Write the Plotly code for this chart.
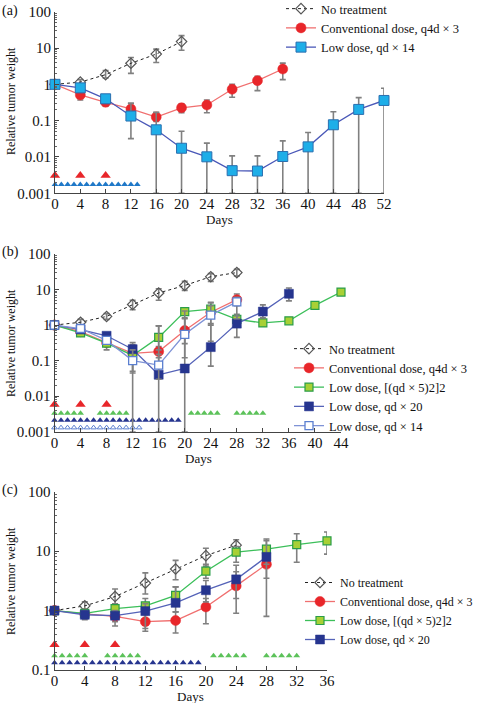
import plotly.graph_objects as go

# ---------------- data: panel (a) ----------------
a_nt_days = [0, 4, 8, 12, 16, 20]
a_nt_val = [1, 1.15, 1.85, 3.8, 6.8, 15]
a_nt_hi = [1, 1.35, 2.4, 5.5, 9.3, 22]
a_nt_lo = [1, 1.0, 1.5, 2.0, 4.0, 8.7]

a_cv_days = [0, 4, 8, 12, 16, 20, 24, 28, 32, 36]
a_cv_val = [1, 0.51, 0.32, 0.21, 0.126, 0.226, 0.27, 0.73, 1.26, 2.64]
a_cv_hi = [1, 0.67, 0.42, 0.30, 0.17, 0.29, 0.37, 1.0, 1.66, 3.85]
a_cv_lo = [1, 0.37, 0.25, 0.14, 0.095, 0.165, 0.165, 0.44, 0.67, 1.35]

a_ld_days = [0, 4, 8, 12, 16, 20, 24, 28, 32, 36, 40, 44, 48, 52]
a_ld_val = [1, 0.80, 0.40, 0.134, 0.056, 0.0174, 0.0101, 0.0042, 0.0041, 0.0103, 0.019, 0.077, 0.204, 0.36]
a_ld_hi = [1, 0.9, 0.45, 0.30, 0.168, 0.051, 0.024, 0.0107, 0.0107, 0.0277, 0.047, 0.176, 0.43, 0.78]
a_ld_lo = [1, 0.7, 0.36, 0.032, 0.001, 0.001, 0.001, 0.001, 0.001, 0.001, 0.001, 0.001, 0.001, 0.001]

a_tri_cv_days = [0, 4, 8]
a_tri_ld_days = list(range(0, 14))

# ---------------- data: panel (b) ----------------
b_nt_days = [0, 4, 8, 12, 16, 20, 24, 28]
b_nt_val = [1, 1.2, 1.75, 3.8, 8.0, 13, 23, 30]
b_nt_hi = [1, 1.45, 2.1, 5.0, 10.5, 17, 28, 37]
b_nt_lo = [1, 1.0, 1.45, 2.7, 5.0, 9.5, 17, 24]

b_cv_days = [0, 4, 8, 12, 16, 20, 24, 28]
b_cv_val = [1, 0.65, 0.32, 0.16, 0.18, 0.7, 2.3, 5.2]
b_cv_hi = [1, 0.78, 0.40, 0.28, 0.25, 1.6, 4.4, 7.5]
b_cv_lo = [1, 0.52, 0.20, 0.05, 0.12, 0.3, 1.0, 3.5]

b_gr_days = [0, 4, 8, 12, 16, 20, 24, 28, 32, 36, 40, 44]
b_gr_val = [1, 0.6, 0.31, 0.14, 0.45, 2.4, 2.8, 1.45, 1.15, 1.32, 3.6, 8.5]
b_gr_hi = [1, 0.72, 0.36, 0.2, 0.95, 2.9, 4.2, 2.0, 1.5, 1.5, 4.4, 10]
b_gr_lo = [1, 0.5, 0.26, 0.1, 0.2, 2.0, 2.0, 1.0, 0.95, 1.15, 3.0, 7]

b_nv_days = [0, 4, 8, 12, 16, 20, 24, 28, 32, 36]
b_nv_val = [1, 0.75, 0.5, 0.21, 0.04, 0.06, 0.24, 1.1, 2.4, 7.6]
b_nv_hi = [1, 0.85, 0.55, 0.32, 0.95, 2.5, 1.1, 1.8, 3.7, 11]
b_nv_lo = [1, 0.65, 0.4, 0.001, 0.001, 0.001, 0.07, 0.45, 1.6, 4.8]

b_lb_days = [0, 4, 8, 12, 16, 20, 24, 28]
b_lb_val = [1, 0.8, 0.37, 0.1, 0.075, 0.55, 1.9, 4.5]
b_lb_hi = [1, 0.9, 0.45, 0.2, 0.15, 1.5, 3.5, 6]
b_lb_lo = [1, 0.7, 0.3, 0.045, 0.03, 0.12, 0.35, 1.5]

b_tri_cv_days = [0, 4, 8]
b_tri_gr_days = [0, 1, 2, 3, 4, 7, 8, 9, 10, 11, 21, 22, 23, 24, 25, 28, 29, 30, 31, 32]
b_tri_nv_days = list(range(0, 20))
b_tri_lb_days = list(range(0, 14))

# ---------------- data: panel (c) ----------------
c_nt_days = [0, 4, 8, 12, 16, 20, 24]
c_nt_val = [1, 1.2, 1.72, 2.9, 5.0, 8.4, 12.6]
c_nt_hi = [1.1, 1.4, 2.3, 4.3, 7.0, 11.2, 15.5]
c_nt_lo = [0.9, 1.05, 1.3, 1.9, 3.3, 5.6, 9.5]

c_cv_days = [0, 4, 8, 12, 16, 20, 24, 28]
c_cv_val = [1, 0.88, 0.8, 0.65, 0.68, 1.15, 2.6, 6.0]
c_cv_hi = [1.1, 1.0, 1.0, 0.85, 0.95, 1.6, 4.5, 10]
c_cv_lo = [0.9, 0.75, 0.65, 0.45, 0.42, 0.6, 0.9, 0.8]

c_gr_days = [0, 4, 8, 12, 16, 20, 24, 28, 32, 36]
c_gr_val = [1, 0.9, 1.08, 1.2, 1.8, 4.6, 9.6, 10.8, 12.9, 14.9]
c_gr_hi = [1.1, 1.05, 1.3, 1.6, 2.5, 6, 12, 15, 19.6, 21]
c_gr_lo = [0.9, 0.78, 0.9, 0.9, 1.3, 3.5, 6.5, 6, 6.5, 8.9]

c_nv_days = [0, 4, 8, 12, 16, 20, 24, 28]
c_nv_val = [1, 0.85, 0.82, 0.98, 1.35, 2.2, 3.35, 8.0]
c_nv_hi = [1.1, 1.0, 1.0, 1.3, 2.5, 3.2, 5.8, 16]
c_nv_lo = [0.85, 0.7, 0.55, 0.5, 0.95, 1.4, 1.6, 3.5]

c_tri_cv_days = [0, 4, 8]
c_tri_gr_days = [0, 1, 2, 3, 4, 7, 8, 9, 10, 11, 21, 22, 23, 24, 25, 28, 29, 30, 31, 32]
c_tri_nv_days = list(range(0, 20))

# triangle row levels (relative tumor weight axis units)
a_tri_levels = [0.0031, 0.00175]
b_tri_levels = [0.0058, 0.0033, 0.0021, 0.0013]
c_tri_levels = [0.265, 0.173, 0.133]

# legend names
NAME_NT = "No treatment"
NAME_CV = "Conventional dose, q4d \u00d7 3"
NAME_LD14 = "Low dose, qd \u00d7 14"
NAME_GR = "Low dose, [(qd \u00d7 5)2]2"
NAME_LD20 = "Low dose, qd \u00d7 20"

# ---------------- styles ----------------
FONT = "Liberation Serif"
ERR_COL = "#808080"
RED = "#e8262a"
RED_LINE = "#f07070"
CYAN = "#1eaee8"
BLUE_LINE = "#4a58b8"
NAVY = "#26358f"
NAVY_LINE = "#5563b8"
GREEN_FILL = "#a8d035"
GREEN_EDGE = "#2a9d48"
GREEN_LINE = "#3cbf5a"
LB_EDGE = "#5b7fd0"
LB_LINE = "#7f93d6"
DIA_EDGE = "#555555"

fig = go.Figure()


def series(days, val, hi, lo, name, xa, ya, legend, line, marker, showlegend=True):
    up = [h - v for h, v in zip(hi, val)]
    dn = [v - l for v, l in zip(val, lo)]
    fig.add_trace(go.Scatter(
        x=days, y=val, name=name, mode="lines+markers",
        xaxis=xa, yaxis=ya, legend=legend, showlegend=showlegend,
        line=line, marker=marker, cliponaxis=False,
        error_y=dict(type="data", symmetric=False, array=up, arrayminus=dn,
                     color=ERR_COL, thickness=1.6, width=3),
    ))


def tri(days, level, xa, ya, color, size, symbol="triangle-up"):
    fig.add_trace(go.Scatter(
        x=days, y=[level] * len(days), mode="markers", xaxis=xa, yaxis=ya,
        showlegend=False, hoverinfo="skip", cliponaxis=False,
        marker=dict(symbol=symbol, size=size, color=color,
                    line=dict(width=1 if "open" in symbol else 0, color=color)),
    ))


nt_line = dict(color="#222222", width=1, dash="dot")
nt_marker = dict(symbol="diamond-open", size=8, color=DIA_EDGE, line=dict(width=1.2, color=DIA_EDGE))
cv_line = dict(color=RED_LINE, width=1.3)
cv_marker = dict(symbol="circle", size=10, color=RED, line=dict(width=0.5, color=RED))
ld_line = dict(color=BLUE_LINE, width=1.3)
ld_marker = dict(symbol="square", size=10, color=CYAN, line=dict(width=1, color="#2a6fb0"))
gr_line = dict(color=GREEN_LINE, width=1.3)
gr_marker = dict(symbol="square", size=8, color=GREEN_FILL, line=dict(width=1.2, color=GREEN_EDGE))
nv_line = dict(color=NAVY_LINE, width=1.3)
nv_marker = dict(symbol="square", size=9, color=NAVY, line=dict(width=0.5, color=NAVY))
lb_line = dict(color=LB_LINE, width=1.3)
lb_marker = dict(symbol="square", size=8, color="white", line=dict(width=1.3, color=LB_EDGE))

# panel (a)
tri(a_tri_cv_days, a_tri_levels[0], "x", "y", RED, 9)
tri(a_tri_ld_days, a_tri_levels[1], "x", "y", "#1f78c8", 6)
series(a_nt_days, a_nt_val, a_nt_hi, a_nt_lo, NAME_NT, "x", "y", "legend", nt_line, nt_marker)
series(a_cv_days, a_cv_val, a_cv_hi, a_cv_lo, NAME_CV, "x", "y", "legend", cv_line, cv_marker)
series(a_ld_days, a_ld_val, a_ld_hi, a_ld_lo, NAME_LD14, "x", "y", "legend", ld_line, ld_marker)

# panel (b)
tri(b_tri_cv_days, b_tri_levels[0], "x2", "y2", RED, 9)
tri(b_tri_gr_days, b_tri_levels[1], "x2", "y2", "#5cc25a", 6)
tri(b_tri_nv_days, b_tri_levels[2], "x2", "y2", NAVY, 6)
tri(b_tri_lb_days, b_tri_levels[3], "x2", "y2", LB_EDGE, 5, "triangle-up-open")
series(b_nt_days, b_nt_val, b_nt_hi, b_nt_lo, NAME_NT, "x2", "y2", "legend2", nt_line, nt_marker)
series(b_cv_days, b_cv_val, b_cv_hi, b_cv_lo, NAME_CV, "x2", "y2", "legend2", cv_line, cv_marker)
series(b_gr_days, b_gr_val, b_gr_hi, b_gr_lo, NAME_GR, "x2", "y2", "legend2", gr_line, gr_marker)
series(b_nv_days, b_nv_val, b_nv_hi, b_nv_lo, NAME_LD20, "x2", "y2", "legend2", nv_line, nv_marker)
series(b_lb_days, b_lb_val, b_lb_hi, b_lb_lo, NAME_LD14, "x2", "y2", "legend2", lb_line, lb_marker)

# panel (c)
tri(c_tri_cv_days, c_tri_levels[0], "x3", "y3", RED, 9)
tri(c_tri_gr_days, c_tri_levels[1], "x3", "y3", "#5cc25a", 6)
tri(c_tri_nv_days, c_tri_levels[2], "x3", "y3", NAVY, 6)
series(c_nt_days, c_nt_val, c_nt_hi, c_nt_lo, NAME_NT, "x3", "y3", "legend3", nt_line, nt_marker)
series(c_cv_days, c_cv_val, c_cv_hi, c_cv_lo, NAME_CV, "x3", "y3", "legend3", cv_line, cv_marker)
series(c_gr_days, c_gr_val, c_gr_hi, c_gr_lo, NAME_GR, "x3", "y3", "legend3", gr_line, gr_marker)
series(c_nv_days, c_nv_val, c_nv_hi, c_nv_lo, NAME_LD20, "x3", "y3", "legend3", nv_line, nv_marker)

W, H = 480, 703


def px_x(p):
    return p / W


def px_y(p):
    return 1 - p / H


axis_common = dict(showline=True, linecolor="#444444", linewidth=1, ticks="inside",
                   ticklen=4, tickcolor="#444444", showgrid=False, zeroline=False,
                   automargin=False,
                   tickfont=dict(family=FONT, size=15, color="#111111"))
xcommon = dict(axis_common, dtick=4, tick0=0, ticklabelstandoff=-3)
ycommon = dict(axis_common, type="log", dtick=1,
               minor=dict(ticks="inside", ticklen=2, tickcolor="#666666", dtick="D1", showgrid=False))

log_ticks_a = [0.001, 0.01, 0.1, 1, 10, 100]
log_text_a = ["0.001", "0.01", "0.1", "1", "10", "100"]
log_ticks_c = [0.1, 1, 10, 100]
log_text_c = ["0.1", "1", "10", "100"]

leg_common = dict(xanchor="left", yanchor="top", font=dict(family=FONT, size=12.5),
                  bgcolor="rgba(0,0,0,0)", tracegroupgap=0, borderwidth=0)

fig.update_layout(
    width=W, height=H, margin=dict(l=0, r=0, t=0, b=0, pad=0, autoexpand=False),
    plot_bgcolor="white", paper_bgcolor="white",
    font=dict(family=FONT, size=13, color="#111111"),
    xaxis=dict(xcommon, domain=[px_x(55), px_x(384)], range=[0, 52], anchor="y"),
    yaxis=dict(ycommon, domain=[px_y(193.3), px_y(11.7)], range=[-3, 2], anchor="x",
               tickvals=log_ticks_a, ticktext=log_text_a),
    xaxis2=dict(xcommon, domain=[px_x(54.5), px_x(341)], range=[0, 44], anchor="y2"),
    yaxis2=dict(ycommon, domain=[px_y(431.7), px_y(254)], range=[-3, 2], anchor="x2",
                tickvals=log_ticks_a, ticktext=log_text_a),
    xaxis3=dict(xcommon, domain=[px_x(54.5), px_x(327)], range=[0, 36], anchor="y3"),
    yaxis3=dict(ycommon, domain=[px_y(670), px_y(491.7)], range=[-1, 2], anchor="x3",
                tickvals=log_ticks_c, ticktext=log_text_c),
    legend=dict(leg_common, x=px_x(281), y=px_y(-6)),
    legend2=dict(leg_common, x=px_x(289), y=px_y(334)),
    legend3=dict(leg_common, x=px_x(300), y=px_y(568), font=dict(family=FONT, size=12)),
    showlegend=True,
)

# panel labels and axis titles
ann = []
for lab, yp in [("(a)", 11), ("(b)", 252), ("(c)", 490)]:
    ann.append(dict(text=lab, x=px_x(0), y=px_y(yp), xref="paper", yref="paper",
                    xanchor="left", yanchor="middle", showarrow=False,
                    font=dict(family=FONT, size=14)))
for yc in [101, 343, 581]:
    ann.append(dict(text="Relative tumor weight", x=px_x(11), y=px_y(yc), xref="paper", yref="paper",
                    xanchor="center", yanchor="middle", textangle=-90, showarrow=False,
                    font=dict(family=FONT, size=12)))
for xc, yp in [(219, 219), (198, 458), (190, 696)]:
    ann.append(dict(text="Days", x=px_x(xc), y=px_y(yp), xref="paper", yref="paper",
                    xanchor="center", yanchor="middle", showarrow=False,
                    font=dict(family=FONT, size=13)))
fig.update_layout(annotations=ann)

fig.write_html("out.html", config={"displayModeBar": False},
               post_script="document.body.style.margin='0';")
